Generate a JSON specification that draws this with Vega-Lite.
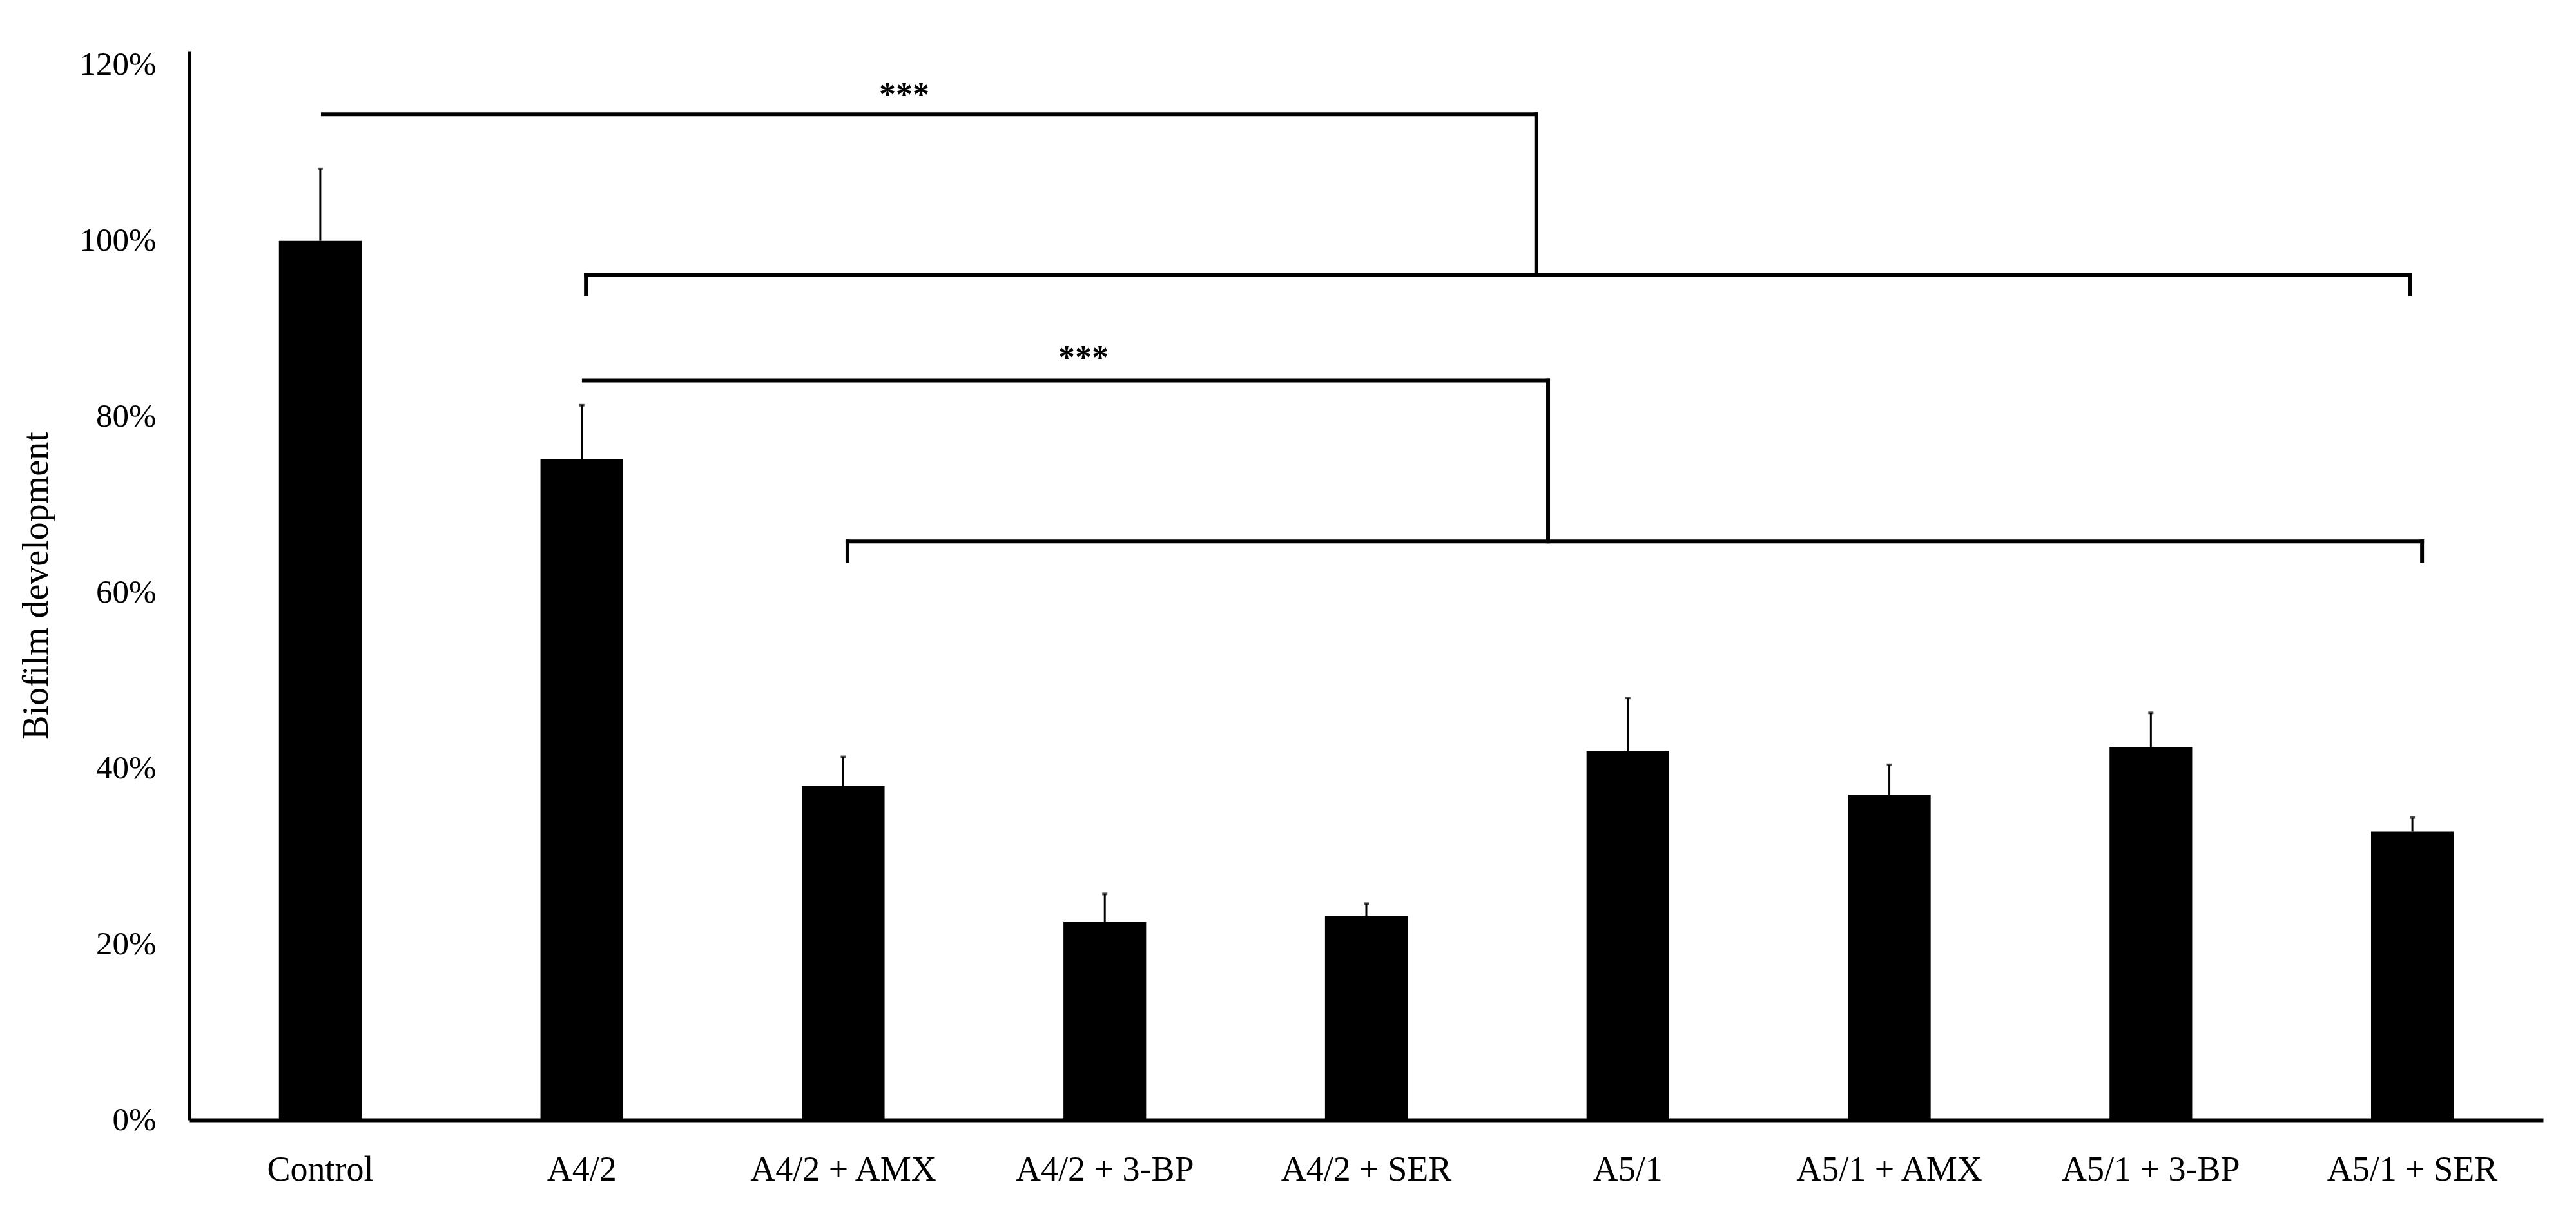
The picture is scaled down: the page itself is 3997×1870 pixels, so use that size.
{
  "$schema": "https://vega.github.io/schema/vega-lite/v6.json",
  "autosize": {"type": "none"},
  "padding": {"left": 294, "top": 79, "right": 51, "bottom": 132},
  "width": 3652,
  "height": 1659,
  "background": "white",
  "config": {"font": "Liberation Serif", "view": {"stroke": null}},
  "datasets": {
    "bars": [
      {"group": "Control", "value": 100, "upper": 108.2},
      {"group": "A4/2", "value": 75.2, "upper": 81.3},
      {"group": "A4/2 + AMX", "value": 38.0, "upper": 41.3},
      {"group": "A4/2 + 3-BP", "value": 22.5, "upper": 25.7},
      {"group": "A4/2 + SER", "value": 23.2, "upper": 24.6},
      {"group": "A5/1", "value": 42.0, "upper": 48.0},
      {"group": "A5/1 + AMX", "value": 37.0, "upper": 40.4},
      {"group": "A5/1 + 3-BP", "value": 42.4, "upper": 46.3},
      {"group": "A5/1 + SER", "value": 32.8, "upper": 34.4}
    ],
    "brackets": [
      {"x": 0.51, "x2": 5.15, "y": 114.4, "y2": 114.4},
      {"x": 5.15, "x2": 5.15, "y": 114.4, "y2": 96.1},
      {"x": 1.516, "x2": 8.49, "y": 96.1, "y2": 96.1},
      {"x": 1.516, "x2": 1.516, "y": 96.1, "y2": 93.9},
      {"x": 8.49, "x2": 8.49, "y": 96.1, "y2": 93.9},
      {"x": 1.508, "x2": 5.195, "y": 84.1, "y2": 84.1},
      {"x": 5.195, "x2": 5.195, "y": 84.1, "y2": 65.8},
      {"x": 2.516, "x2": 8.537, "y": 65.8, "y2": 65.8},
      {"x": 2.516, "x2": 2.516, "y": 65.8, "y2": 63.6},
      {"x": 8.537, "x2": 8.537, "y": 65.8, "y2": 63.6}
    ],
    "stars": [
      {"x": 2.733, "y": 115.4, "label": "***"},
      {"x": 3.418, "y": 85.5, "label": "***"}
    ]
  },
  "layer": [
    {
      "data": {"name": "bars"},
      "mark": {"type": "bar", "color": "black", "width": {"band": 0.316}},
      "encoding": {
        "x": {
          "field": "group", "type": "nominal", "sort": null,
          "scale": {"paddingInner": 0, "paddingOuter": 0},
          "axis": {
            "title": null, "labelAngle": 0, "labelFontSize": 54, "labelColor": "black",
            "labelFont": "Liberation Serif", "labelLimit": 0, "ticks": false, "tickSize": 0, "labelPadding": 50,
            "domainColor": "black", "domainWidth": 6
          }
        },
        "y": {
          "field": "value", "type": "quantitative",
          "scale": {"domain": [0, 121.6], "nice": false},
          "axis": {
            "title": "Biofilm development", "titleFontSize": 56, "titleFont": "Liberation Serif",
            "titleFontWeight": "normal", "titleColor": "black", "titlePadding": 38,
            "values": [0, 20, 40, 60, 80, 100, 120], "format": "d",
            "labelExpr": "datum.label + '%'", "labelFontSize": 51, "labelColor": "black",
            "labelFont": "Liberation Serif", "ticks": false, "tickSize": 0, "labelPadding": 52,
            "grid": false, "domainColor": "black", "domainWidth": 5
          }
        }
      }
    },
    {
      "data": {"name": "bars"},
      "mark": {"type": "rule", "color": "black", "strokeWidth": 3},
      "encoding": {
        "x": {"field": "group", "type": "nominal", "sort": null, "scale": {"paddingInner": 0, "paddingOuter": 0}, "axis": null},
        "y": {"field": "value", "type": "quantitative"},
        "y2": {"field": "upper"}
      }
    },
    {
      "data": {"name": "bars"},
      "mark": {"type": "tick", "color": "black", "size": 8, "thickness": 4},
      "encoding": {
        "x": {"field": "group", "type": "nominal", "sort": null, "scale": {"paddingInner": 0, "paddingOuter": 0}, "axis": null},
        "y": {"field": "upper", "type": "quantitative"}
      }
    },
    {
      "data": {"name": "brackets"},
      "mark": {"type": "rule", "color": "black", "strokeWidth": 6, "strokeCap": "square"},
      "encoding": {
        "x": {"field": "x", "type": "quantitative", "scale": {"domain": [0, 9], "nice": false, "zero": false}, "axis": null},
        "x2": {"field": "x2"},
        "y": {"field": "y", "type": "quantitative"},
        "y2": {"field": "y2"}
      }
    },
    {
      "data": {"name": "stars"},
      "mark": {"type": "text", "color": "black", "fontSize": 52, "fontWeight": "bold", "font": "Liberation Serif", "baseline": "alphabetic", "align": "center"},
      "encoding": {
        "x": {"field": "x", "type": "quantitative", "scale": {"domain": [0, 9], "nice": false, "zero": false}, "axis": null},
        "y": {"field": "y", "type": "quantitative"},
        "text": {"field": "label"}
      }
    }
  ],
  "resolve": {"scale": {"x": "independent"}}
}
